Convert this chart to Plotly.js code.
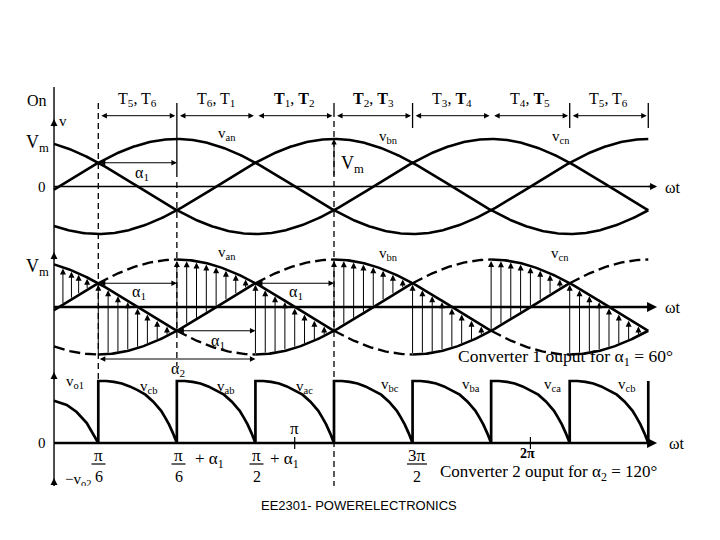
<!DOCTYPE html>
<html><head><meta charset="utf-8">
<script src="https://cdn.plot.ly/plotly-3.0.1.min.js"></script>
<style>html,body{margin:0;padding:0;background:#fff}#wrap{position:relative;width:720px;height:540px}#crop{position:absolute;left:0;top:486px;width:720px;height:11px;background:#fff}</style>
</head><body><div id="wrap"><div id="chart" style="width:720px;height:540px"></div><div id="crop"></div></div>
<script>
// ---------------- data ----------------
const phaseNames = ['an', 'bn', 'cn'];
const phaseShiftDeg = [0, 120, 240];          // v_an, v_bn, v_cn
const Vm = 1;
const alpha1Deg = 60;
const alpha2Deg = 120;
const commutationDeg = [30, 90, 150, 210, 270, 330, 390, 450];
const thetaStart = -3.8, thetaEnd = 450, axisEnd = 456.7;
const arrowOffsetsDeg = [0, 7.5, 15, 22.5, 30, 37.5, 45, 52.5];
const headArrowDeg = [3, 9.5, 15, 21.5];
// converter-1 output: shape of one 60-degree segment (fraction of interval, value in Vm)
const segFrac = [0, 0.1, 0.2, 0.3, 0.4, 0.5, 0.6, 0.7, 0.8, 0.85, 0.9, 0.95, 1];
const segVal  = [1.5, 1.5, 1.48, 1.44, 1.37, 1.28, 1.17, 1.0, 0.78, 0.62, 0.45, 0.24, 0];
// first partial segment
const headDeg = [-3.8, 5.9, 13.5, 21.2, 30];
const headVal = [1.02, 0.92, 0.75, 0.48, 0];
const intervalLabels = [
  'T<sub>5</sub>, T<sub>6</sub>', 'T<sub>6</sub>, T<sub>1</sub>', '<b>T</b><sub>1</sub>, <b>T</b><sub>2</sub>',
  '<b>T</b><sub>2</sub>, <b>T</b><sub>3</sub>', 'T<sub>3</sub>, <b>T</b><sub>4</sub>', 'T<sub>4</sub>, <b>T</b><sub>5</sub>',
  'T<sub>5</sub>, T<sub>6</sub>'];
const segLabels = ['v<sub>cb</sub>', 'v<sub>ab</sub>', 'v<sub>ac</sub>', 'v<sub>bc</sub>', 'v<sub>ba</sub>', 'v<sub>ca</sub>', 'v<sub>cb</sub>'];

// ---------------- geometry ----------------
const W = 720, H = 540;
const X0PX = 59, PXPERDEG = 1.3095;
const xRange = [-X0PX / PXPERDEG, (W - X0PX) / PXPERDEG];
function yr(zeroPx, pxPerUnit) { return [(zeroPx - H) / pxPerUnit, zeroPx / pxPerUnit]; }
const P1 = {zero: 186.5, k: 47.5}, P2 = {zero: 307, k: 47.5}, P3 = {zero: 443, k: 41.33};
const SERIF = '"Liberation Serif","Times New Roman",serif';
const SANS = '"Liberation Sans",Arial,sans-serif';
const px2y = (py) => 1 - py / H;

function v(p, t) { return Vm * Math.sin((t - phaseShiftDeg[p]) * Math.PI / 180); }
function grid(a, b) { const o = []; for (let t = a; t < b; t += 1) o.push(t); o.push(b); return o; }
function mod(a, n) { return ((a % n) + n) % n; }
function upperPhase(t) { for (let p = 0; p < 3; p++) if (mod(t - (30 + alpha1Deg) - phaseShiftDeg[p], 360) < 120) return p; }
function lowerPhase(t) { for (let p = 0; p < 3; p++) if (mod(t - (210 + alpha1Deg) - phaseShiftDeg[p], 360) < 120) return p; }

function condIntervals(p) {
  const s = phaseShiftDeg[p], res = [];
  for (let k = -2; k <= 2; k++) {
    [30 + alpha1Deg, 210 + alpha1Deg].forEach(st => {
      const a = st + s + 360 * k, b = a + 120;
      const lo = Math.max(a, thetaStart), hi = Math.min(b, thetaEnd);
      if (hi > lo) res.push([lo, hi]);
    });
  }
  res.sort((u, w) => u[0] - w[0]);
  return res;
}
function complement(iv) {
  const res = []; let cur = thetaStart;
  iv.forEach(([a, b]) => { if (a > cur) res.push([cur, a]); cur = Math.max(cur, b); });
  if (cur < thetaEnd) res.push([cur, thetaEnd]);
  return res;
}
function buildSegs(p, iv) {
  const x = [], y = [];
  iv.forEach(([a, b]) => { grid(a, b).forEach(t => { x.push(t); y.push(v(p, t)); }); x.push(null); y.push(null); });
  return {x, y};
}

const traces = [];
// panel 1: phase voltages
for (let p = 0; p < 3; p++) {
  const x = grid(thetaStart, thetaEnd);
  traces.push({x, y: x.map(t => v(p, t)), yaxis: 'y', mode: 'lines', line: {color: '#000', width: 2.6}, hoverinfo: 'skip', name: 'v' + phaseNames[p]});
}
// panel 2: conducting (solid) and idle (dashed) parts
for (let p = 0; p < 3; p++) {
  const on = condIntervals(p), off = complement(on);
  const s1 = buildSegs(p, on), s2 = buildSegs(p, off);
  traces.push({x: s1.x, y: s1.y, yaxis: 'y2', mode: 'lines', line: {color: '#000', width: 2.6}, hoverinfo: 'skip', connectgaps: false});
  traces.push({x: s2.x, y: s2.y, yaxis: 'y2', mode: 'lines', line: {color: '#000', width: 2.4, dash: '11px,5px'}, hoverinfo: 'skip', connectgaps: false});
}
// panel 3: converter 1 output
const v3x = [], v3y = [];
headDeg.forEach((t, i) => { v3x.push(t); v3y.push(headVal[i]); });
commutationDeg.forEach((c, ci) => {
  v3x.push(c); v3y.push(0);
  v3x.push(c); v3y.push(segVal[0]);
  if (ci < commutationDeg.length - 1) segFrac.forEach((f, i) => { if (i > 0) { v3x.push(c + 60 * f); v3y.push(segVal[i]); } });
});
traces.push({x: v3x, y: v3y, yaxis: 'y3', mode: 'lines', line: {color: '#000', width: 2.7}, hoverinfo: 'skip'});

// ---------------- shapes ----------------
const shapes = [];
const L = (x0, y0, x1, y1, yref, w, dash) => ({type: 'line', xref: 'x', yref, x0, y0, x1, y1, line: {color: '#000', width: w, dash: dash || 'solid'}});
// vertical axis
shapes.push(L(thetaStart, px2y(87), thetaStart, px2y(492), 'paper', 1.4));
// zero lines
shapes.push(L(thetaStart, 0, axisEnd - 3, 0, 'y', 1.4));
shapes.push(L(thetaStart, 0, axisEnd - 3, 0, 'y2', 2.6));
shapes.push(L(thetaStart, 0, axisEnd - 3, 0, 'y3', 2.6));
// dashed verticals
shapes.push(L(30, px2y(103), 30, px2y(381), 'paper', 1.3, '6px,4px'));
shapes.push(L(90, px2y(103), 90, px2y(177), 'paper', 1.3));
shapes.push(L(90, px2y(182), 90, px2y(366), 'paper', 1.3, '6px,4px'));
shapes.push(L(210, px2y(103), 210, px2y(117), 'paper', 1.3));
shapes.push(L(210, px2y(121), 210, px2y(492), 'paper', 1.3, '6px,4px'));
// interval ticks
[270, 390, 450].forEach(t => shapes.push(L(t, px2y(103), t, px2y(128), 'paper', 1.3)));
// small ticks on converter-2 axis (pi and 2pi)
[180, 360].forEach(t => shapes.push(L(t, px2y(437), t, px2y(449), 'paper', 1.2)));

// ---------------- annotations ----------------
const ann = [];
function txt(px, py, text, size, fam, xa) {
  ann.push({xref: 'paper', yref: 'paper', x: px / W, y: px2y(py), text, showarrow: false, borderpad: 0,
    font: {family: fam || SERIF, size, color: '#000'}, xanchor: xa || 'center', yanchor: 'middle'});
}
function arrowData(x, y, ax, ay, yref, opts) {
  ann.push(Object.assign({xref: 'x', yref, x, y, axref: 'x', ayref: yref, ax, ay, text: '', showarrow: true,
    arrowhead: 2, arrowsize: 1.1, arrowwidth: 1, arrowcolor: '#000', standoff: 0, startstandoff: 0}, opts || {}));
}
function arrowPix(x, y, yref, ax, ay, opts) {
  ann.push(Object.assign({xref: 'x', yref, x, y, axref: 'pixel', ayref: 'pixel', ax, ay, text: '', showarrow: true,
    arrowhead: 2, arrowsize: 1, arrowwidth: 1.4, arrowcolor: '#000', standoff: 0}, opts || {}));
}
// axis arrowheads
arrowPix(thetaStart, px2y(119), 'paper', 0, 9);
arrowPix(thetaStart, px2y(252), 'paper', 0, 9);
arrowPix(thetaStart, px2y(372), 'paper', 0, 9);
arrowPix(thetaStart, px2y(478), 'paper', 0, 9);
arrowPix(axisEnd, 0, 'y', -10, 0);
arrowPix(axisEnd, 0, 'y2', -10, 0, {arrowwidth: 2});
arrowPix(axisEnd, 0, 'y3', -10, 0, {arrowwidth: 2});
// interval double arrows
for (let i = 0; i < commutationDeg.length - 1; i++) {
  const a = commutationDeg[i] + 1.2, b = commutationDeg[i + 1] - 1.2;
  ann.push({xref: 'x', yref: 'paper', x: b, y: px2y(115.7), axref: 'x', ayref: 'pixel', ax: a, ay: 0, text: '', showarrow: true,
    arrowhead: 2, startarrowhead: 2, arrowside: 'end+start', arrowsize: 1.1, startarrowsize: 1.1, arrowwidth: 1, arrowcolor: '#000', standoff: 0, startstandoff: 0});
  txt(X0PX + PXPERDEG * (commutationDeg[i] + 30), 100, intervalLabels[i], 16);
}
// panel 1 alpha1 and Vm arrows
const dbl = {arrowside: 'end+start', startarrowhead: 2, startarrowsize: 1.1};
arrowData(30 + alpha1Deg, v(0, 30), 30, v(0, 30), 'y', dbl);
arrowData(210, Vm, 210, (P1.zero - 177) / P1.k, 'y');
// panel 2 commutation / output arrows
const arrowAngles = headArrowDeg.slice();
commutationDeg.slice(0, -1).forEach(c => arrowOffsetsDeg.forEach(o => arrowAngles.push(c + o)));
arrowAngles.forEach(t => {
  const up = v(upperPhase(t), t), lo = v(lowerPhase(t), t);
  arrowData(t, up - 0.03, t, lo, 'y2', {arrowhead: 2, arrowsize: 1.2});
});
// panel 2 alpha arrows (horizontal, from the crossing points)
arrowData(30 + alpha1Deg, v(0, 30), 30, v(0, 30), 'y2', dbl);
arrowData(150 + alpha1Deg, v(0, 150), 150, v(0, 150), 'y2', dbl);
arrowData(90 + alpha1Deg, v(1, 90), 90, v(1, 90), 'y2', dbl);
arrowData(30 + alpha2Deg, (P2.zero - 359) / P2.k, 30, (P2.zero - 359) / P2.k, 'y2', dbl);

// text labels panel 1
txt(37, 101, 'On', 16);
txt(63, 121, 'v', 15);
txt(37, 143, 'V<sub>m</sub>', 18);
txt(42, 187, '0', 15);
txt(673, 187, 'ωt', 16);
txt(227, 134, 'v<sub>an</sub>', 15);
txt(388, 137, 'v<sub>bn</sub>', 15);
txt(561, 137, 'v<sub>cn</sub>', 15);
txt(142, 173, 'α<sub>1</sub>', 16);
txt(352, 164, 'V<sub>m</sub>', 18);
// panel 2
txt(37, 268, 'V<sub>m</sub>', 18);
txt(227, 253, 'v<sub>an</sub>', 15);
txt(388, 254, 'v<sub>bn</sub>', 15);
txt(560, 254, 'v<sub>cn</sub>', 15);
txt(673, 307, 'ωt', 16);
txt(139, 292, 'α<sub>1</sub>', 16);
txt(296, 292, 'α<sub>1</sub>', 16);
txt(218, 341, 'α<sub>1</sub>', 16);
txt(178, 369, 'α<sub>2</sub>', 16);
txt(565, 357, 'Converter 1 ouput for α<sub>1</sub> = 60°', 17.5);
// panel 3
txt(75, 382, 'v<sub>o1</sub>', 15);
const segLabelPx = [[148, 387], [225, 387], [304, 387], [390, 385], [471, 385], [552, 385], [626, 385]];
segLabels.forEach((s, i) => txt(segLabelPx[i][0], segLabelPx[i][1], s, 15));
txt(42, 443, '0', 15);
txt(677, 443, 'ωt', 16);
txt(294, 428, 'π', 17);
// fractions
function frac(pxc, num, den, w) {
  txt(pxc, 455, num, 17);
  txt(pxc, 476, den, 16);
  shapes.push({type: 'line', xref: 'paper', yref: 'paper', x0: (pxc - w / 2) / W, x1: (pxc + w / 2) / W, y0: px2y(464), y1: px2y(464), line: {color: '#000', width: 1.2}});
}
frac(98.5, 'π', '6', 14);
frac(178.5, 'π', '6', 14);
frac(256.5, 'π', '2', 14);
frac(417, '3π', '2', 20);
txt(209, 460, '+ α<sub>1</sub>', 17);
txt(284, 460, '+ α<sub>1</sub>', 17);
txt(527, 453, '<b>2π</b>', 14);
txt(548, 473, 'Converter 2 ouput for α<sub>2</sub> = 120°', 17);
txt(78, 480, '−v<sub>o2</sub>', 15);
// footer
txt(359, 505, 'EE2301- POWERELECTRONICS', 13, SANS);

const hidden = {visible: false, fixedrange: true, showgrid: false, zeroline: false};
const layout = {
  width: W, height: H, margin: {l: 0, r: 0, t: 0, b: 0},
  paper_bgcolor: '#fff', plot_bgcolor: '#fff', showlegend: false,
  xaxis: Object.assign({range: xRange}, hidden),
  yaxis: Object.assign({range: yr(P1.zero, P1.k)}, hidden),
  yaxis2: Object.assign({range: yr(P2.zero, P2.k), overlaying: 'y'}, hidden),
  yaxis3: Object.assign({range: yr(P3.zero, P3.k), overlaying: 'y'}, hidden),
  shapes, annotations: ann
};
Plotly.newPlot('chart', traces, layout, {staticPlot: true, displayModeBar: false});
</script></body></html>
